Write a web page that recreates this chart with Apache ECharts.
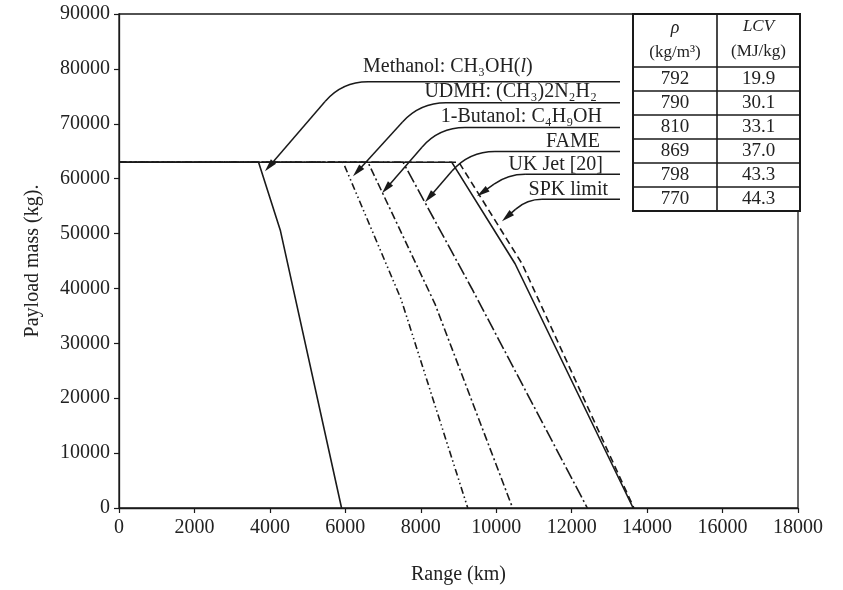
<!DOCTYPE html>
<html><head><meta charset="utf-8">
<script src="https://cdn.jsdelivr.net/npm/echarts@6/dist/echarts.min.js"></script>
<style>html,body{margin:0;padding:0;background:#fff}#c{width:843px;height:590px}</style>
</head><body><div id="c"></div>
<script>
// ---- data ----
const xTicks = [0, 2000, 4000, 6000, 8000, 10000, 12000, 14000, 16000, 18000];
const yTicks = [0, 10000, 20000, 30000, 40000, 50000, 60000, 70000, 80000, 90000];
const seriesNames = ['Methanol', 'UDMH', '1-Butanol', 'FAME', 'UK Jet [20]', 'SPK limit'];
const methanol = [[0, 63000], [3700, 63000], [4280, 50500], [5900, 0]];
const udmh     = [[0, 63000], [5940, 63000], [7475, 38100], [9245, 0]];
const butanol  = [[0, 63000], [6600, 63000], [8375, 37200], [10435, 0]];
const fame     = [[0, 63000], [7530, 63000], [9360, 39900], [12415, 0]];
const ukJet    = [[0, 63000], [8820, 63000], [10500, 44500], [13630, 0]];
const spk      = [[0, 63000], [9010, 63000], [10685, 44500], [13650, 0]];
const density  = ['792', '790', '810', '869', '798', '770'];
const lcv      = ['19.9', '30.1', '33.1', '37.0', '43.3', '44.3'];

// ---- styling / layout ----
const FF = '"Liberation Serif","Times New Roman",serif';
const INK = '#1a1a1a';
const seriesData = [methanol, udmh, butanol, fame, ukJet, spk];
const dashes = ['solid', [7, 3, 1.5, 3, 1.5, 3], [8, 3, 2, 3], [13, 3, 2, 3], 'solid', [7, 4]];

// annotation geometry (data coordinates): tip on curve, corner point, label
const annotations = [
  { rich: '{n|Methanol: CH₃OH(}{i|l}{n|)}', tip: [3870, 61330], corner: [5912, 77660], text: [6468, 80380], align: 'left' },
  { rich: '{n|UDMH: (CH₃)2N₂H₂}', tip: [6203, 60420], corner: [7979, 73850], text: [12671, 75850], align: 'right' },
  { rich: '{n|1-Butanol: C₄H₉OH}', tip: [6972, 57340], corner: [8483, 69310], text: [12804, 71310], align: 'right' },
  { rich: '{n|FAME}', tip: [8112, 55710], corner: [9278, 64960], text: [12751, 66770], align: 'right' },
  { rich: '{n|UK Jet [20]}', tip: [9490, 56800], corner: [10312, 60790], text: [12831, 62600], align: 'right' },
  { rich: '{n|SPK limit}', tip: [10153, 52260], corner: [10816, 56250], text: [12963, 58060], align: 'right' }
];
const leaderEndX = 13281;

const chart = echarts.init(document.getElementById('c'), null, { renderer: 'canvas' });

const series = seriesData.map((d, i) => ({
  name: seriesNames[i],
  type: 'line',
  data: d,
  showSymbol: false,
  symbol: 'none',
  animation: false,
  z: i === 0 || i === 4 ? 3 : 2,
  lineStyle: { color: INK, width: 1.6, type: dashes[i] }
}));

const plain = v => String(v);

chart.setOption({
  animation: false,
  backgroundColor: '#fff',
  grid: { left: 119, right: 45, top: 14, bottom: 80, show: true, borderColor: INK, borderWidth: 1.3, backgroundColor: 'transparent' },
  xAxis: {
    type: 'value', min: xTicks[0], max: xTicks[xTicks.length - 1], interval: xTicks[1] - xTicks[0],
    name: 'Range (km)', nameLocation: 'middle', nameGap: 57,
    nameTextStyle: { fontFamily: FF, fontSize: 20, color: '#222' },
    axisLine: { show: true, lineStyle: { color: INK, width: 1.3 } },
    axisTick: { show: true, inside: false, length: 5, lineStyle: { color: INK, width: 1.2 } },
    axisLabel: { fontFamily: FF, fontSize: 20, color: '#222', margin: 10, formatter: plain },
    splitLine: { show: false }
  },
  yAxis: {
    type: 'value', min: yTicks[0], max: yTicks[yTicks.length - 1], interval: yTicks[1] - yTicks[0],
    name: 'Payload mass (kg).', nameLocation: 'middle', nameGap: 76,
    nameTextStyle: { fontFamily: FF, fontSize: 20, color: '#222' },
    axisLine: { show: true, lineStyle: { color: INK, width: 1.3 } },
    axisTick: { show: true, inside: false, length: 5, lineStyle: { color: INK, width: 1.2 } },
    axisLabel: { fontFamily: FF, fontSize: 20, color: '#222', margin: 9, formatter: plain },
    splitLine: { show: false }
  },
  series: series
});

function px(p) { return chart.convertToPixel({ gridIndex: 0 }, p); }

const g = [];
// leader lines
annotations.forEach(a => {
  const T = px(a.tip), P = px(a.corner), E = px([leaderEndX, a.corner[1]]);
  const dx = T[0] - P[0], dy = T[1] - P[1];
  const len = Math.hypot(dx, dy);
  const ux = dx / len, uy = dy / len;
  const r = Math.min(26, len * 0.45);
  const L = 13, w = 3.4;
  const base = [T[0] - ux * L, T[1] - uy * L];
  const lineStyle = { fill: null, stroke: INK, lineWidth: 1.5 };
  g.push({ type: 'line', silent: true, z: 10, shape: { x1: E[0], y1: P[1], x2: P[0] + r, y2: P[1] }, style: lineStyle });
  g.push({ type: 'bezierCurve', silent: true, z: 10, shape: { x1: P[0] + r, y1: P[1], cpx1: P[0], cpy1: P[1], x2: P[0] + ux * r, y2: P[1] + uy * r }, style: lineStyle });
  g.push({ type: 'line', silent: true, z: 10, shape: { x1: P[0] + ux * r, y1: P[1] + uy * r, x2: base[0] + ux * 2, y2: base[1] + uy * 2 }, style: lineStyle });
  const nx = -uy, ny = ux;
  g.push({ type: 'polygon', silent: true, z: 10, shape: { points: [T, [base[0] + nx * w, base[1] + ny * w], [base[0] - nx * w, base[1] - ny * w]] }, style: { fill: INK } });
  const Tp = px(a.text);
  g.push({ type: 'text', silent: true, z: 10, x: Tp[0], y: Tp[1], style: {
    text: a.rich, fill: '#222', align: a.align, verticalAlign: 'middle', fontFamily: FF, fontSize: 20,
    rich: { n: { fontFamily: FF, fontSize: 20, fill: '#222' }, i: { fontFamily: FF, fontSize: 20, fontStyle: 'italic', fill: '#222' } }
  } });
});

// table (anchored to the grid's top-right corner)
const TR = px([xTicks[xTicks.length - 1], yTicks[yTicks.length - 1]]);
const tRight = TR[0] + 2, tTop = TR[1], tLeft = tRight - 167, tMid = tLeft + 84;
const headH = 53, rowH = 24;
const tBottom = tTop + headH + rowH * density.length;
g.push({ type: 'rect', silent: true, z: 20, shape: { x: tLeft, y: tTop, width: tRight - tLeft, height: tBottom - tTop }, style: { fill: '#fff', stroke: INK, lineWidth: 2 } });
g.push({ type: 'line', silent: true, z: 21, shape: { x1: tMid, y1: tTop, x2: tMid, y2: tBottom }, style: { stroke: INK, lineWidth: 1.6 } });
for (let i = 0; i < density.length; i++) {
  const yy = tTop + headH + rowH * i;
  g.push({ type: 'line', silent: true, z: 21, shape: { x1: tLeft, y1: yy, x2: tRight, y2: yy }, style: { stroke: INK, lineWidth: 1.6 } });
  const cy = yy + rowH / 2;
  g.push({ type: 'text', silent: true, z: 22, x: (tLeft + tMid) / 2, y: cy, style: { text: density[i], fill: '#222', align: 'center', verticalAlign: 'middle', fontFamily: FF, fontSize: 19 } });
  g.push({ type: 'text', silent: true, z: 22, x: (tMid + tRight) / 2, y: cy, style: { text: lcv[i], fill: '#222', align: 'center', verticalAlign: 'middle', fontFamily: FF, fontSize: 19 } });
}
g.push({ type: 'text', silent: true, z: 22, x: (tLeft + tMid) / 2, y: tTop + 14, style: { text: 'ρ', fill: '#222', align: 'center', verticalAlign: 'middle', fontFamily: FF, fontSize: 18, fontStyle: 'italic' } });
g.push({ type: 'text', silent: true, z: 22, x: (tLeft + tMid) / 2, y: tTop + 39, style: { text: '(kg/m³)', fill: '#222', align: 'center', verticalAlign: 'middle', fontFamily: FF, fontSize: 17 } });
g.push({ type: 'text', silent: true, z: 22, x: (tMid + tRight) / 2, y: tTop + 13, style: { text: 'LCV', fill: '#222', align: 'center', verticalAlign: 'middle', fontFamily: FF, fontSize: 17, fontStyle: 'italic' } });
g.push({ type: 'text', silent: true, z: 22, x: (tMid + tRight) / 2, y: tTop + 38, style: { text: '(MJ/kg)', fill: '#222', align: 'center', verticalAlign: 'middle', fontFamily: FF, fontSize: 17 } });

chart.setOption({ graphic: g });
</script></body></html>
